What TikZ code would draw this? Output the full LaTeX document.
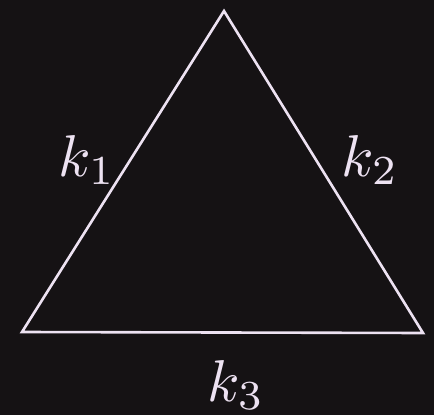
\documentclass[tikz,border=0pt]{standalone}
\begin{document}
\begin{tikzpicture}[x=1pt,y=-1pt,
  edge/.style={draw=linecol,line width=2.6pt,line join=miter},
  lab/.style={text=linecol,inner sep=0pt,scale=5.9}]
\definecolor{bg}{HTML}{151214}
\definecolor{linecol}{HTML}{EDE2F2}
\fill[bg] (0,0) rectangle (434,415);
\useasboundingbox (0,0) rectangle (434,415);
\coordinate (top) at (224,11);
\coordinate (bl) at (22,332);
\coordinate (br) at (423,333);
\draw[edge] (top) -- (bl) -- (br) -- cycle;
\node[lab] (k1) at (87,160) {$k_1$};
\node[lab] (k2) at (370,160) {$k_2$};
\node[lab] (k3) at (236,385) {$k_3$};
\end{tikzpicture}
\end{document}
